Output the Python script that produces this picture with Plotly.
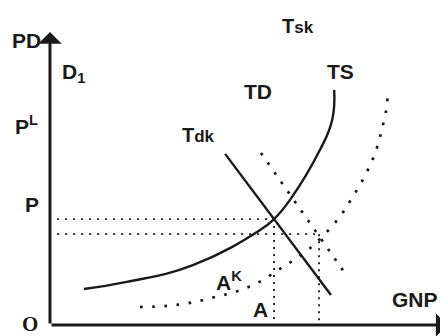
import plotly.graph_objects as go

# ---- data (GNP on x, price level PD on y; arbitrary 0-100 units) ----
ts_x = [8.5, 19.3, 35.9, 52.8, 56.3, 60.3, 67.8, 70.9, 71.4]
ts_y = [12.2, 14.6, 20.3, 32.2, 35.9, 42.4, 59.3, 69.5, 79.7]

tdk_x = [44.0, 70.6]
tdk_y = [58.0, 10.2]

td_x = [53.0, 74.6]
td_y = [58.3, 16.6]

tsk_x = [22.6, 28.9, 35.2, 41.5, 47.2, 53.0, 58.5, 63.6, 68.3, 72.6, 75.9, 79.1, 81.7, 83.4, 84.7, 84.7]
tsk_y = [6.1, 6.4, 7.5, 9.5, 11.5, 14.9, 19.7, 24.1, 29.8, 36.3, 43.1, 50.5, 58.3, 66.4, 74.9, 79.0]

eq_x = [56.3, 67.6]      # equilibrium GNP levels
eq_y = [35.9, 30.8]      # equilibrium price levels
guide_start = 1.8

labels = ["PD", "D<sub>1</sub>", "P<sup>L</sup>", "P",
          "<span style='font-size:20px'>T</span>sk",
          "TS", "TD",
          "<span style='font-size:20px'>T</span>dk",
          "A<sup>K</sup>", "A", "GNP"]
label_size = [21, 21, 21, 21, 17, 21, 21, 17, 21, 21, 21]
label_x = [-5.8, 5.8, -5.8, -4.5, 62.3, 72.9, 52.3, 37.4, 45.0, 52.8, 91.7]
label_y = [96.6, 85.4, 67.8, 40.7, 101.4, 85.8, 79.0, 64.4, 14.9, 5.1, 8.8]

BLACK = "#1a1a1a"
fig = go.Figure()

# solid supply curve TS
fig.add_trace(go.Scatter(x=ts_x, y=ts_y, mode="lines",
                         line=dict(color=BLACK, width=2.4, shape="spline", smoothing=1.3)))
# solid demand line Tdk
fig.add_trace(go.Scatter(x=tdk_x, y=tdk_y, mode="lines", line=dict(color=BLACK, width=2.4)))
# dotted demand line TD
fig.add_trace(go.Scatter(x=td_x, y=td_y, mode="lines",
                         line=dict(color=BLACK, width=2.7, dash="2.7px,9px")))
# dotted supply curve Tsk
fig.add_trace(go.Scatter(x=tsk_x, y=tsk_y, mode="lines",
                         line=dict(color=BLACK, width=2.7, dash="2.7px,9.5px", shape="spline", smoothing=1.0)))

# equilibrium guide lines
for ex, ey in zip(eq_x, eq_y):
    fig.add_trace(go.Scatter(x=[guide_start, ex], y=[ey, ey], mode="lines",
                             line=dict(color=BLACK, width=1.8, dash="2px,6px")))
    fig.add_trace(go.Scatter(x=[ex, ex], y=[ey, 0], mode="lines",
                             line=dict(color=BLACK, width=1.8, dash="2px,5px")))

annotations = []
# axes as arrows
annotations.append(dict(x=0, y=99.3, ax=0, ay=0, xref="x", yref="y", axref="x", ayref="y",
                        showarrow=True, arrowhead=1, arrowsize=1.3, arrowwidth=3, arrowcolor=BLACK,
                        text="", standoff=0))
annotations.append(dict(x=99.9, y=0, ax=0, ay=0, xref="x", yref="y", axref="x", ayref="y",
                        showarrow=True, arrowhead=1, arrowsize=1.3, arrowwidth=3, arrowcolor=BLACK,
                        text="", standoff=0))

for t, s, lx, ly in zip(labels, label_size, label_x, label_y):
    annotations.append(dict(x=lx, y=ly, xref="x", yref="y", text="<b>" + t + "</b>", showarrow=False,
                            font=dict(family="Liberation Sans, Arial, sans-serif", size=s, color=BLACK)))
annotations.append(dict(x=-5.0, y=0.3, xref="x", yref="y", text="<b>O</b>", showarrow=False,
                        font=dict(family="Liberation Serif, Times New Roman, serif", size=21, color=BLACK)))

# the page body adds an 8px offset; the figure fills the rest of the window
fig.update_layout(
    width=440, height=328,
    margin=dict(l=0, r=0, t=0, b=0),
    paper_bgcolor="white", plot_bgcolor="white",
    showlegend=False,
    xaxis=dict(range=[-10.55, 100.0], visible=False, fixedrange=True),
    yaxis=dict(range=[-3.73, 107.46], visible=False, fixedrange=True),
    annotations=annotations,
)

fig.write_html("out.html")
